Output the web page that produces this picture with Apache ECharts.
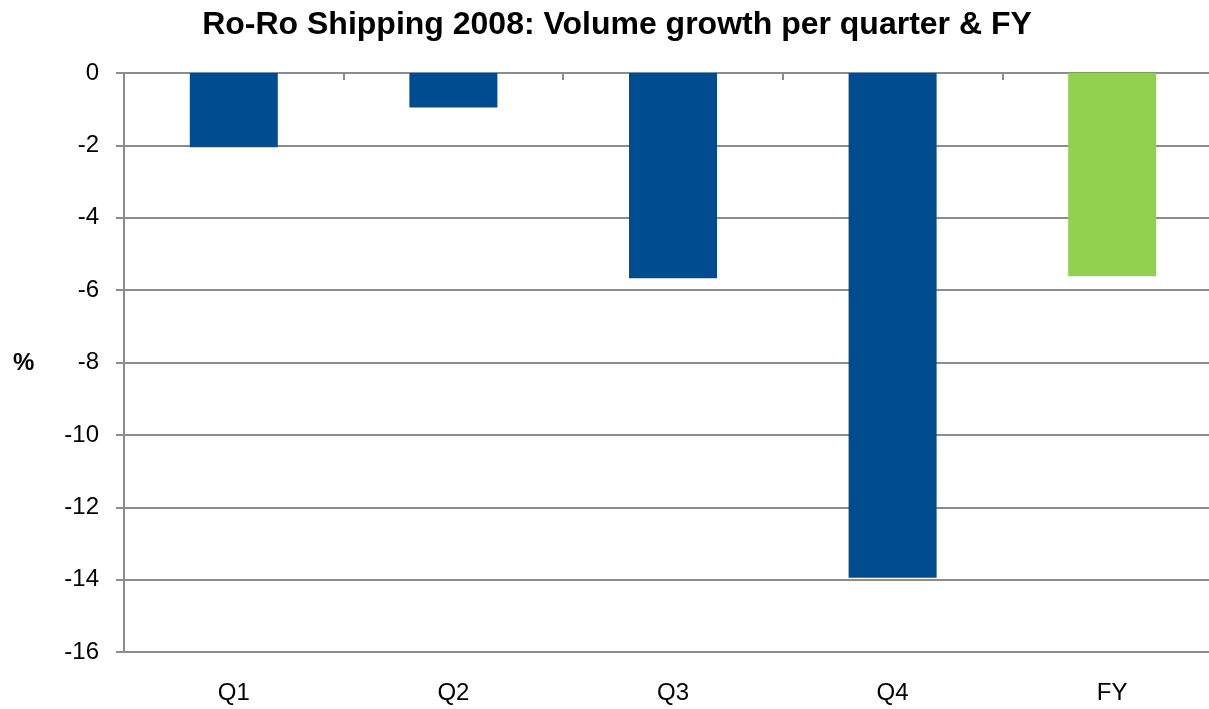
<!DOCTYPE html>
<html>
<head>
<meta charset="utf-8">
<script src="https://cdn.jsdelivr.net/npm/echarts@6/dist/echarts.min.js"></script>
<style>
  html, body { margin: 0; padding: 0; background: #fff; }
  #chart { width: 1209px; height: 709px; }
</style>
</head>
<body>
<div id="chart"></div>
<script>
  // data
  const categories = ['Q1', 'Q2', 'Q3', 'Q4', 'FY'];
  const growth = [-2.05, -0.95, -5.67, -13.95, -5.62];
  const barColors = ['#004C91', '#004C91', '#004C91', '#004C91', '#92D050'];
  const yTicks = { min: -16, max: 0, interval: 2 };

  const chart = echarts.init(document.getElementById('chart'));
  const gridColor = '#8C8C8C';

  chart.setOption({
    animation: false,
    textStyle: { fontFamily: 'Liberation Sans, Arial, sans-serif' },
    title: {
      text: 'Ro-Ro Shipping 2008: Volume growth per quarter & FY',
      left: 612,
      textAlign: 'center',
      top: 4,
      textStyle: { fontSize: 32, fontWeight: 'bold', color: '#000' }
    },
    graphic: [{
      type: 'text',
      left: 13,
      top: 351,
      style: { text: '%', fill: '#000', font: 'bold 24px Liberation Sans' }
    }],
    // plot runs past the right edge of the picture, as in the reference
    grid: { left: 124, width: 1098, top: 73, bottom: 57, outerBoundsMode: 'none', containLabel: false },
    xAxis: [
      {
        type: 'category',
        data: categories,
        position: 'bottom',
        axisLine: { show: false },
        axisTick: { show: false },
        axisLabel: { fontSize: 24, color: '#000', margin: 29 }
      },
      {
        type: 'category',
        data: categories,
        position: 'top',
        axisLine: { show: true, lineStyle: { color: gridColor, width: 2 } },
        axisTick: { show: true, inside: true, length: 7, lineStyle: { color: gridColor, width: 2 } },
        axisLabel: { show: false }
      }
    ],
    yAxis: {
      type: 'value',
      min: yTicks.min,
      max: yTicks.max,
      interval: yTicks.interval,
      axisLine: { show: true, lineStyle: { color: gridColor, width: 2 } },
      axisTick: { show: true, length: 8, lineStyle: { color: gridColor, width: 2 } },
      axisLabel: { fontSize: 24, color: '#000', margin: 25 },
      splitLine: { show: true, lineStyle: { color: gridColor, width: 2 } }
    },
    series: [{
      type: 'bar',
      xAxisIndex: 0,
      data: growth.map((v, i) => ({ value: v, itemStyle: { color: barColors[i] } })),
      barWidth: 88
    }]
  });
</script>
</body>
</html>
